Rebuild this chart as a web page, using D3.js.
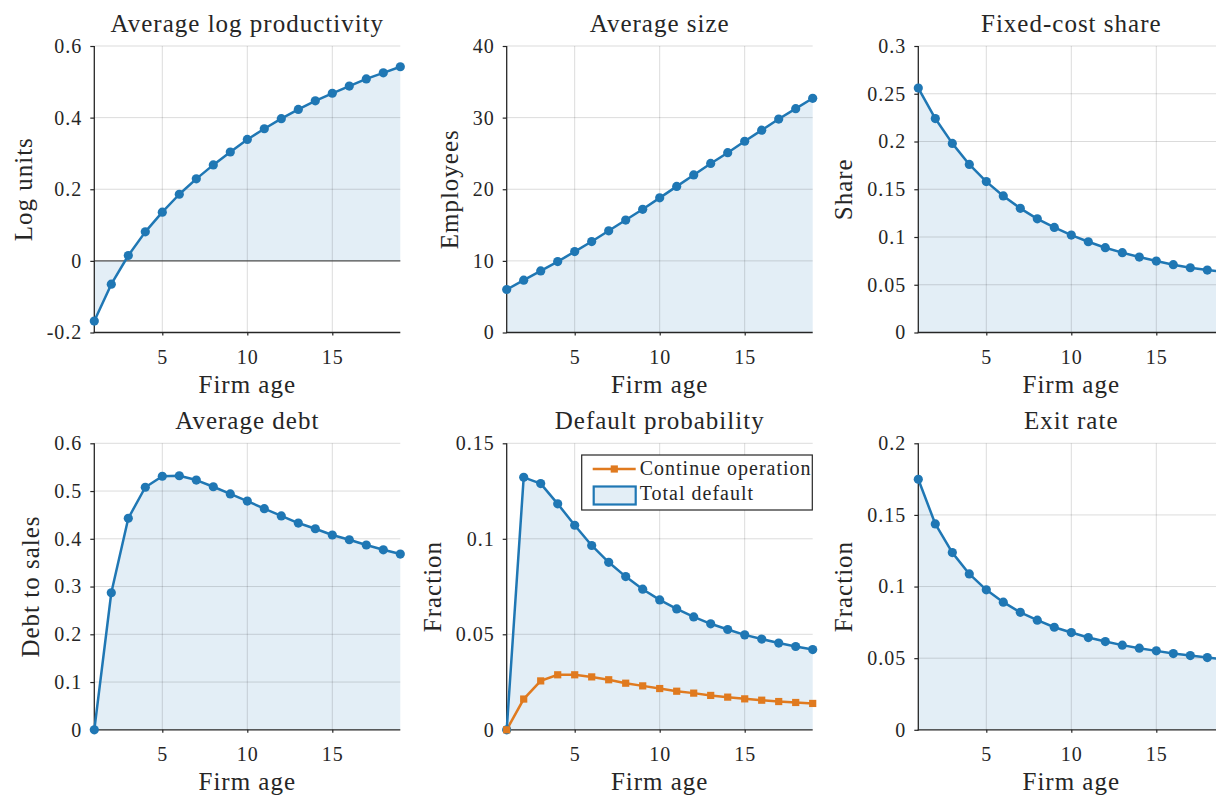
<!DOCTYPE html>
<html>
<head>
<meta charset="utf-8">
<script src="https://cdn.jsdelivr.net/npm/d3@7"></script>
<style>
  body { margin: 0; background: #fff; }
  svg { display: block; }
  text { font-family: "Liberation Serif", "DejaVu Serif", serif; fill: #262626; letter-spacing: 1px; }
</style>
</head>
<body>
<div id="figure-mount"></div>
<script>
var AGES = d3.range(1, 20);
var X_TICKS = [5, 10, 15];

var LOG_PRODUCTIVITY = [-0.168, -0.065, 0.015, 0.081, 0.136, 0.186, 0.229, 0.268, 0.304, 0.339,
  0.369, 0.397, 0.423, 0.447, 0.468, 0.488, 0.508, 0.525, 0.542];
var AVG_SIZE = [6.0, 7.3, 8.6, 9.9, 11.3, 12.7, 14.2, 15.7, 17.2, 18.8,
  20.4, 22.0, 23.6, 25.1, 26.7, 28.25, 29.8, 31.25, 32.7];
var FIXED_COST_SHARE = [0.256, 0.224, 0.198, 0.176, 0.158, 0.143, 0.130, 0.119, 0.110, 0.102,
  0.095, 0.0888, 0.0836, 0.079, 0.0748, 0.071, 0.0678, 0.0654, 0.0633];
var DEBT_TO_SALES = [0, 0.287, 0.443, 0.508, 0.531, 0.532, 0.523, 0.509, 0.494, 0.479,
  0.463, 0.448, 0.433, 0.421, 0.408, 0.398, 0.387, 0.377, 0.368];
var TOTAL_DEFAULT = [0, 0.1322, 0.1289, 0.1183, 0.1071, 0.0965, 0.0877, 0.0802, 0.0736, 0.068,
  0.0633, 0.0591, 0.0555, 0.0525, 0.0497, 0.0475, 0.0454, 0.0436, 0.042];
var CONTINUE_OPERATION = [0, 0.0161, 0.0256, 0.0288, 0.0288, 0.0277, 0.0262, 0.0244, 0.023, 0.0216,
  0.0202, 0.0192, 0.018, 0.0171, 0.0162, 0.0155, 0.0148, 0.0143, 0.0138];
var EXIT_RATE = [0.1749, 0.1437, 0.1237, 0.1088, 0.0977, 0.0891, 0.082, 0.0765, 0.0716, 0.0679,
  0.0644, 0.0616, 0.0591, 0.057, 0.0551, 0.0532, 0.0518, 0.0504, 0.0493];

var WIDTH = 1216;
var HEIGHT = 795;
var PLOT_W = 306;
var COL_LEFT = [94.3, 506.7, 918.3];
var ROW_TOP = [46, 443.3];
var PLOT_H = 286.5;

var BLUE = '#1f77b4';
var ORANGE = '#e07a1f';
var FILL = 'rgba(31,119,180,0.125)';
var INK = '#262626';
var GRID = 'rgba(0,0,0,0.14)';
var SERIF = '"Liberation Serif", "DejaVu Serif", serif';

var panels = [
  { title: 'Average log productivity', ylabel: 'Log units', domain: [-0.2, 0.6],
    ticks: [-0.2, 0, 0.2, 0.4, 0.6], values: LOG_PRODUCTIVITY, zeroLine: true },
  { title: 'Average size', ylabel: 'Employees', domain: [0, 40],
    ticks: [0, 10, 20, 30, 40], values: AVG_SIZE },
  { title: 'Fixed-cost share', ylabel: 'Share', domain: [0, 0.3],
    ticks: [0, 0.05, 0.1, 0.15, 0.2, 0.25, 0.3], values: FIXED_COST_SHARE },
  { title: 'Average debt', ylabel: 'Debt to sales', domain: [0, 0.6],
    ticks: [0, 0.1, 0.2, 0.3, 0.4, 0.5, 0.6], values: DEBT_TO_SALES },
  { title: 'Default probability', ylabel: 'Fraction', domain: [0, 0.15],
    ticks: [0, 0.05, 0.1, 0.15], values: TOTAL_DEFAULT, extra: CONTINUE_OPERATION, legend: true },
  { title: 'Exit rate', ylabel: 'Fraction', domain: [0, 0.2],
    ticks: [0, 0.05, 0.1, 0.15, 0.2], values: EXIT_RATE }
];

var $svg = d3.select('#figure-mount').append('svg')
  .attr('width', WIDTH)
  .attr('height', HEIGHT);

function drawPanel (cfg, i) {
  var left = COL_LEFT[i % 3];
  var top = ROW_TOP[Math.floor(i / 3)];
  var x = d3.scaleLinear().domain([1, 19]).range([0, PLOT_W]);
  var y = d3.scaleLinear().domain(cfg.domain).range([PLOT_H, 0]);
  var g = $svg.append('g').attr('transform', 'translate(' + left + ',' + top + ')');
  var base = Math.max(cfg.domain[0], 0);

  // shaded area under the main series
  g.append('path')
    .datum(cfg.values)
    .attr('fill', FILL)
    .attr('d', d3.area()
      .x(function (d, j) { return x(AGES[j]); })
      .y0(y(base))
      .y1(function (d) { return y(d); }));

  // grid
  g.append('g').selectAll('line')
    .data(X_TICKS)
    .enter().append('line')
      .attr('x1', function (d) { return x(d); })
      .attr('x2', function (d) { return x(d); })
      .attr('y1', 0).attr('y2', PLOT_H)
      .attr('stroke', GRID).attr('stroke-width', 1);
  g.append('g').selectAll('line')
    .data(cfg.ticks.slice(1))
    .enter().append('line')
      .attr('x1', 0).attr('x2', PLOT_W)
      .attr('y1', function (d) { return y(d); })
      .attr('y2', function (d) { return y(d); })
      .attr('stroke', GRID).attr('stroke-width', 1);

  if (cfg.zeroLine) {
    g.append('line')
      .attr('x1', 0).attr('x2', PLOT_W)
      .attr('y1', y(0)).attr('y2', y(0))
      .attr('stroke', '#555').attr('stroke-width', 1.2);
  }

  // axes
  var yAxis = g.append('g')
    .call(d3.axisLeft(y).tickValues(cfg.ticks).tickSize(4).tickPadding(8)
      .tickFormat(function (d) { return String(d); }));
  var xAxis = g.append('g')
    .attr('transform', 'translate(0,' + PLOT_H + ')')
    .call(d3.axisBottom(x).tickValues(X_TICKS).tickSize(3).tickPadding(14)
      .tickFormat(function (d) { return String(d); }));
  [yAxis, xAxis].forEach(function (ax) {
    ax.select('.domain').remove();
    ax.selectAll('line').attr('stroke', INK).attr('stroke-width', 1.2);
    ax.selectAll('text')
      .attr('fill', INK)
      .style('font-family', SERIF)
      .style('font-size', '20px');
  });
  g.append('line')
    .attr('x1', 0).attr('x2', 0).attr('y1', 0).attr('y2', PLOT_H + 0.6)
    .attr('stroke', INK).attr('stroke-width', 1.3);
  g.append('line')
    .attr('x1', -0.6).attr('x2', PLOT_W).attr('y1', PLOT_H).attr('y2', PLOT_H)
    .attr('stroke', INK).attr('stroke-width', 1.3);

  // series
  var line = d3.line()
    .x(function (d, j) { return x(AGES[j]); })
    .y(function (d) { return y(d); });

  if (cfg.extra) {
    g.append('path')
      .datum(cfg.extra)
      .attr('fill', 'none')
      .attr('stroke', ORANGE)
      .attr('stroke-width', 2.5)
      .attr('d', line);
  }

  g.append('path')
    .datum(cfg.values)
    .attr('fill', 'none')
    .attr('stroke', BLUE)
    .attr('stroke-width', 2.5)
    .attr('stroke-linejoin', 'round')
    .attr('d', line);

  g.append('g').selectAll('circle')
    .data(cfg.values)
    .enter().append('circle')
      .attr('cx', function (d, j) { return x(AGES[j]); })
      .attr('cy', function (d) { return y(d); })
      .attr('r', 4.6)
      .attr('fill', BLUE);

  if (cfg.extra) {
    g.append('g').selectAll('rect')
      .data(cfg.extra)
      .enter().append('rect')
        .attr('x', function (d, j) { return x(AGES[j]) - 3.6; })
        .attr('y', function (d) { return y(d) - 3.6; })
        .attr('width', 7.2).attr('height', 7.2)
        .attr('fill', ORANGE);
  }

  // labels
  g.append('text')
    .attr('x', PLOT_W / 2)
    .attr('y', -14)
    .attr('text-anchor', 'middle')
    .style('font-size', '25px')
    .text(cfg.title);

  g.append('text')
    .attr('x', PLOT_W / 2)
    .attr('y', PLOT_H + 60)
    .attr('text-anchor', 'middle')
    .style('font-size', '25px')
    .text('Firm age');

  var bbox = yAxis.node().getBBox();
  g.append('text')
    .attr('transform', 'translate(' + (bbox.x - 15) + ',' + (PLOT_H / 2) + ') rotate(-90)')
    .attr('text-anchor', 'middle')
    .style('font-size', '25px')
    .text(cfg.ylabel);

  if (cfg.legend) drawLegend(g);
}

function drawLegend (g) {
  var lg = g.append('g').attr('transform', 'translate(75,11.7)');
  lg.append('rect')
    .attr('width', 230.6).attr('height', 55)
    .attr('fill', '#fff')
    .attr('stroke', INK).attr('stroke-width', 1.2);

  lg.append('line')
    .attr('x1', 11).attr('x2', 54).attr('y1', 14).attr('y2', 14)
    .attr('stroke', ORANGE).attr('stroke-width', 2.5);
  lg.append('rect')
    .attr('x', 29).attr('y', 10.4).attr('width', 7.2).attr('height', 7.2)
    .attr('fill', ORANGE);
  lg.append('text')
    .attr('x', 58).attr('y', 19.5)
    .style('font-size', '20px')
    .text('Continue operation');

  lg.append('rect')
    .attr('x', 12).attr('y', 31.5).attr('width', 42).attr('height', 18)
    .attr('fill', FILL)
    .attr('stroke', BLUE).attr('stroke-width', 2.2);
  lg.append('text')
    .attr('x', 58).attr('y', 44.5)
    .style('font-size', '20px')
    .text('Total default');
}

panels.forEach(drawPanel);
</script>
</body>
</html>
